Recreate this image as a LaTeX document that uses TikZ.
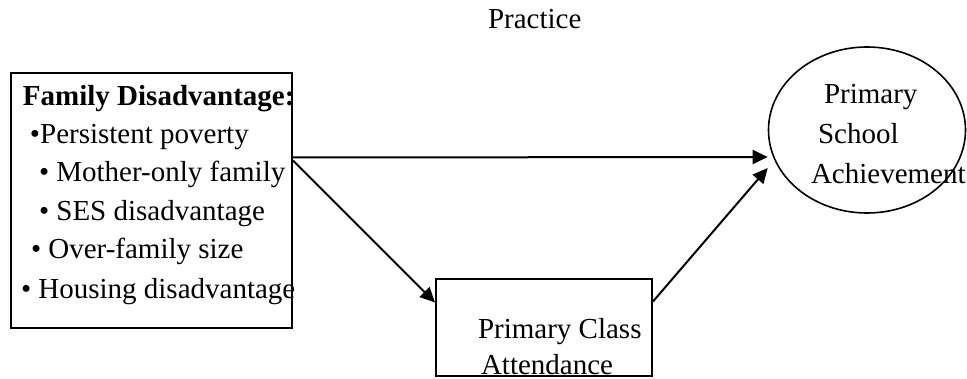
\documentclass[tikz,border=0pt]{standalone}
\usepackage{fontspec}
\setmainfont{Liberation Serif}
\usetikzlibrary{arrows.meta, positioning, shapes.geometric}
\tikzset{>={Triangle[length=15pt, width=14pt]}}
\tikzset{box-r/.style = {draw, rectangle, line width=2pt, inner sep=0}}
\tikzset{box-e/.style = {draw, ellipse, line width=1.6pt, inner sep=0}}
\tikzset{txt/.style = {anchor=base west, inner sep=0}}

\begin{document}
\begin{tikzpicture}[x=1pt, y=-1pt, font=\fontsize{29}{35}\selectfont, line width=2pt]
  \useasboundingbox (0,0) rectangle (967,379);
  \node[box-r, minimum width=281pt, minimum height=255pt] (fam) at (151.5,200.5) {};
  \node[box-r, minimum width=216pt, minimum height=97pt] (att) at (544,327.5) {};
  \node[box-e, minimum width=197pt, minimum height=166pt] (ach) at (867,130) {};

  \path (487,29) node[txt] (practice) {Practice}
        (22,106) node[txt] (famT) {\textbf{Family Disadvantage:}}
        (29,144) node[txt] (famL1) {•Persistent poverty}
        (38,182) node[txt] (famL2) {• Mother-only family}
        (38,221) node[txt] (famL3) {• SES disadvantage}
        (30,259) node[txt] (famL4) {• Over-family size}
        (20,299) node[txt] (famL5) {• Housing disadvantage}
        (477,339) node[txt] (attL1) {Primary Class}
        (480,375) node[txt] (attL2) {Attendance}
        (823,104) node[txt] (achL1) {Primary}
        (817,144) node[txt] (achL2) {School}
        (810,184) node[txt] (achL3) {Achievement};

  \coordinate (famH) at ([yshift=43pt]fam.east);
  \coordinate (famD) at ([yshift=40pt]fam.east);
  \coordinate (attIn) at ([yshift=25pt]att.west);
  \coordinate (attOut) at ([yshift=26pt]att.east);
  \coordinate (achH) at ([yshift=-27pt]ach.west);
  \coordinate (achD) at ([yshift=-38pt]ach.west);

  \foreach \i/\o in {famH/achH, famD/attIn, attOut/achD}
  {
    \draw[->] (\i) -- (\o);
  }
\end{tikzpicture}
\end{document}
